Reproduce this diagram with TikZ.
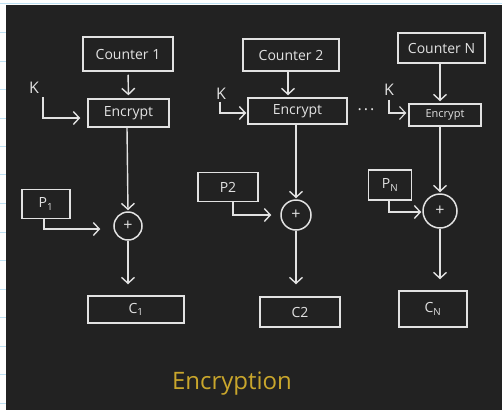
\documentclass[tikz,border=0pt]{standalone}
\usepackage{fontspec}
\setmainfont{Open Sans}
\usetikzlibrary{arrows.meta,calc}
\definecolor{board}{HTML}{222222}
\definecolor{chalk}{HTML}{E2E2E2}
\definecolor{chalkyellow}{HTML}{C9A62C}
\definecolor{ruling}{HTML}{BFE2F4}
\tikzset{
  box/.style={draw=chalk, line width=1.5pt, inner sep=0pt, text=chalk, font=\fontsize{14}{16}\selectfont},
  xor/.style={draw=chalk, line width=1.5pt, circle, inner sep=0pt, text=chalk, font=\fontsize{16}{16}\selectfont},
  lbl/.style={text=chalk, inner sep=0pt, font=\fontsize{16}{16}\selectfont},
  wire/.style={draw=chalk, line width=1.4pt, -{Straight Barb[length=6pt,width=13pt]}},
}
\begin{document}
\begin{tikzpicture}[x=1pt,y=-1pt]
  % page: notebook margin and chalkboard
  \useasboundingbox (0,0) rectangle (502,410);
  \fill[white] (0,0) rectangle (502,410);
  \draw[ruling, line width=0.8pt] (0,3.5) -- (502,3.5);
  \foreach \yy in {32,61,89,118,146,174,203,232,260,289,317,346,374,403}
    \draw[ruling, line width=0.8pt] (0,\yy) -- (6,\yy);
  \fill[board] (6,5) rectangle (502,410);

  % counters
  \node[box, minimum width=90pt, minimum height=34pt] (cnt1) at (128,54) {Counter 1};
  \node[box, minimum width=96pt, minimum height=32pt] (cnt2) at (291,55) {Counter 2};
  \node[box, minimum width=87pt, minimum height=30pt] (cntN) at (441.5,48) {Counter N};

  % block encryptions
  \node[box, minimum width=81pt, minimum height=28pt] (enc1) at (128.5,113) {Encrypt};
  \node[box, minimum width=99pt, minimum height=26pt] (enc2) at (297.5,111) {Encrypt};
  \node[box, minimum width=72pt, minimum height=22pt, font=\fontsize{11}{12}\selectfont] (encN) at (445,115) {Encrypt};

  % keys
  \node[lbl] (k1) at (34,88) {K};
  \node[lbl] (k2) at (221,94) {K};
  \node[lbl] (kN) at (389,90) {K};
  \node[lbl, font=\fontsize{16}{16}\selectfont] (dots) at (366,110) {.\kern2pt.\kern2pt.};

  % plaintext blocks
  \node[box, minimum width=48pt, minimum height=29pt] (p1) at (46,204) {P\textsubscript{1}};
  \node[box, minimum width=60pt, minimum height=29pt] (p2) at (228,187) {P2};
  \node[box, minimum width=43pt, minimum height=30pt] (pN) at (390,185) {P\textsubscript{N}};

  % xor gates
  \node[xor, minimum size=28pt] (x1) at (128,226) {+};
  \node[xor, minimum size=30pt] (x2) at (296,215) {+};
  \node[xor, minimum size=34pt] (xN) at (440,211) {+};

  % ciphertext blocks
  \node[box, minimum width=96pt, minimum height=27pt] (c1) at (136,309.5) {C\textsubscript{1}};
  \node[box, minimum width=80pt, minimum height=30pt] (c2) at (300,312) {C2};
  \node[box, minimum width=68pt, minimum height=36pt] (cN) at (433,309) {C\textsubscript{N}};

  % counter -> encrypt
  \draw[wire, shorten <=3pt, shorten >=3pt] (cnt1.south) -- (enc1.north);
  \draw[wire, shorten >=2pt] ($(cnt2.south)+(-3,0)$) -- ($(enc2.north)+(-9.5,0)$);
  \draw[wire, shorten >=2pt] ($(cntN.south)+(-1.5,0)$) -- ($(encN.north)+(-5,0)$);

  % key inputs
  \draw[wire, shorten <=3pt, shorten >=7pt] ($(k1.south)+(9,0)$) |- ($(enc1.west)+(0,5)$);
  \draw[wire, shorten <=2pt, shorten >=1pt] ($(k2.south)+(-1,0)$) |- ($(enc2.west)+(0,2)$);
  \draw[wire, line width=1.1pt, shorten <=4pt, shorten >=2pt] (kN.south) |- ($(encN.west)+(0,-2)$);

  % encrypt -> xor
  \draw[wire, shorten >=1pt] ($(enc1.south)+(-1.5,0)$) -- (x1.north);
  \draw[wire, shorten >=1pt] ($(enc2.south)+(-1.5,0)$) -- (x2.north);
  \draw[wire, shorten >=1pt] ($(encN.south)+(-5,0)$) -- (xN.north);

  % plaintext -> xor
  \draw[wire, shorten >=13pt] ($(p1.south)+(-2,0)$) |- ($(x1.west)+(0,3)$);
  \draw[wire, shorten >=9pt] ($(p2.south)+(5,0)$) |- (x2.west);
  \draw[wire, shorten >=1pt] ($(pN.south)+(-1,0)$) |- ($(xN.west)+(0,1)$);

  % xor -> ciphertext
  \draw[wire, shorten >=11pt] (x1.south) -- (x1.south |- c1.north);
  \draw[wire, shorten >=12pt] (x2.south) -- (x2.south |- c2.north);
  \draw[wire, shorten >=11pt] (xN.south) -- (xN.south |- cN.north);

  % caption
  \node[text=chalkyellow, inner sep=0pt, font=\fontsize{24}{26}\selectfont] (title) at (232,384) {Encryption};
\end{tikzpicture}
\end{document}
